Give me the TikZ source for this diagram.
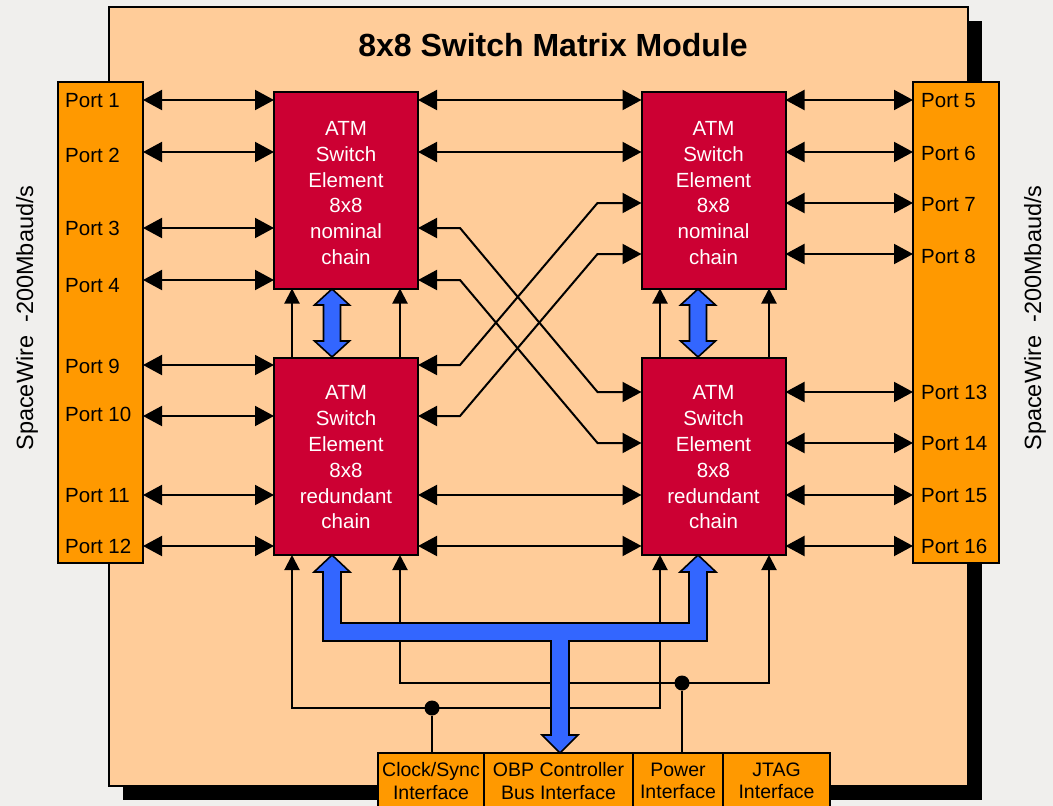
\documentclass[tikz,border=0pt]{standalone}
\usepackage{fontspec}
\setmainfont{Liberation Sans}
\usetikzlibrary{arrows.meta,calc}
\definecolor{bgc}{RGB}{240,239,237}
\definecolor{peach}{RGB}{255,204,153}
\definecolor{orng}{RGB}{255,153,0}
\definecolor{atmred}{RGB}{204,0,51}
\definecolor{busblue}{RGB}{51,102,255}
\begin{document}
\begin{tikzpicture}[x=1pt,y=-1pt,
  box/.style={draw=black, line width=2pt, inner sep=0pt, outer sep=0pt},
  atm/.style={box, fill=atmred, minimum width=144pt, minimum height=197pt},
  atmtxt/.style={text=white, align=center, inner sep=0pt, font=\fontsize{20.5}{25.8}\selectfont},
  ifc/.style={box, fill=orng, align=center, anchor=north west, minimum height=56pt,
    font=\fontsize{19.5}{22.5}\selectfont},
  ptxt/.style={anchor=west, inner sep=0pt, text height=14.7pt, text depth=0pt,
    font=\fontsize{20.5}{24}\selectfont},
  side/.style={rotate=90, inner sep=0pt, font=\fontsize{23.5}{27}\selectfont},
  harr/.style={line width=2pt, <->, >={Triangle[length=19pt,width=20pt]}},
  varr/.style={line width=2pt, ->, >={Triangle[length=15pt,width=15pt]}},
  vboth/.style={line width=2pt, <->, >={Triangle[length=15pt,width=15pt]}},
  wire/.style={line width=2pt},
  junction/.style={circle, fill=black, inner sep=0pt, minimum size=15pt},
  blueshape/.style={fill=busblue, draw=black, line width=1.6pt, line join=miter}]
\useasboundingbox (0,0) rectangle (1053,806);
\fill[bgc] (0,0) rectangle (1053,806);
% shadow and module
\fill[black] (123,21) rectangle (982,800);
\node[box, fill=peach, anchor=north west, minimum width=859pt, minimum height=779pt] (mod) at (109,7) {};
\node[font=\fontsize{32}{36}\selectfont\bfseries] (title) at (553,45) {8x8 Switch Matrix Module};
% side labels
\node[side] (swl) at (27,318) {SpaceWire\ \ -200Mbaud/s};
\node[side] (swr) at (1035,318) {SpaceWire\ \ -200Mbaud/s};
% port boxes
\node[box, fill=orng, anchor=north west, minimum width=85pt, minimum height=481pt] (lp) at (58,82) {};
\node[box, fill=orng, anchor=north west, minimum width=86pt, minimum height=481pt] (rp) at (913,82) {};
% ATM elements
\node[atm] (tl) at (346,190) {};
\node[atm] (tr) at (713.5,190) {};
\node[atm] (bl) at (346,456.5) {};
\node[atm] (br) at (713.5,456.5) {};
\node[atmtxt] (tlt) at ([yshift=-3pt]tl.center) {ATM\\Switch\\Element\\8x8\\nominal\\chain};
\node[atmtxt] (trt) at ([yshift=-3pt]tr.center) {ATM\\Switch\\Element\\8x8\\nominal\\chain};
\node[atmtxt] (blt) at ([yshift=-1pt]bl.center) {ATM\\Switch\\Element\\8x8\\redundant\\chain};
\node[atmtxt] (brt) at ([yshift=-1pt]br.center) {ATM\\Switch\\Element\\8x8\\redundant\\chain};
% interfaces
\node[ifc, minimum width=106pt] (clk) at (378,753) {Clock/Sync\\Interface};
\node[ifc, minimum width=149pt] (obp) at (484,753) {OBP Controller\\Bus Interface};
\node[ifc, minimum width=90pt] (pwr) at (633,753) {Power\\Interface};
\node[ifc, minimum width=107pt] (jtag) at (723,753) {JTAG\\Interface};
% port labels
\node[ptxt] (p1) at (65,100) {Port 1};
\node[ptxt] (p2) at (65,155) {Port 2};
\node[ptxt] (p3) at (65,228) {Port 3};
\node[ptxt] (p4) at (65,285) {Port 4};
\node[ptxt] (p9) at (65,366) {Port 9};
\node[ptxt] (p10) at (65,414) {Port 10};
\node[ptxt] (p11) at (65,495) {Port 11};
\node[ptxt] (p12) at (65,546) {Port 12};
\node[ptxt] (p5) at (921,100) {Port 5};
\node[ptxt] (p6) at (921,153) {Port 6};
\node[ptxt] (p7) at (921,204) {Port 7};
\node[ptxt] (p8) at (921,256) {Port 8};
\node[ptxt] (p13) at (921,392) {Port 13};
\node[ptxt] (p14) at (921,443) {Port 14};
\node[ptxt] (p15) at (921,495) {Port 15};
\node[ptxt] (p16) at (921,546) {Port 16};
% row and column coordinates
\coordinate (r1) at (0,100); \coordinate (r2) at (0,152);
\coordinate (r3) at (0,228); \coordinate (r4) at (0,280);
\coordinate (r9) at (0,365); \coordinate (r10) at (0,416);
\coordinate (r11) at (0,495); \coordinate (r12) at (0,546);
\coordinate (s5) at (0,100); \coordinate (s6) at (0,152);
\coordinate (s7) at (0,203); \coordinate (s8) at (0,254);
\coordinate (s13) at (0,392); \coordinate (s14) at (0,443);
\coordinate (s15) at (0,495); \coordinate (s16) at (0,546);
\coordinate (c1) at (292,0); \coordinate (c2) at (400,0);
\coordinate (c3) at (660,0); \coordinate (c4) at (769,0);
% left ports
\foreach \r in {r1,r2,r3,r4} \draw[harr] (lp.east |- \r) -- (tl.west |- \r);
\foreach \r in {r9,r10,r11,r12} \draw[harr] (lp.east |- \r) -- (bl.west |- \r);
% right ports
\foreach \r in {s5,s6,s7,s8} \draw[harr] (tr.east |- \r) -- (rp.west |- \r);
\foreach \r in {s13,s14,s15,s16} \draw[harr] (br.east |- \r) -- (rp.west |- \r);
% straight element links
\draw[harr] (tl.east |- r1) -- (tr.west |- r1);
\draw[harr] (tl.east |- r2) -- (tr.west |- r2);
\draw[harr] (bl.east |- r11) -- (br.west |- r11);
\draw[harr] (bl.east |- r12) -- (br.west |- r12);
% crossing links
\draw[harr] (tl.east |- r3) -- ([xshift=42pt]tl.east |- r3) -- ([xshift=-44pt]br.west |- s13) -- (br.west |- s13);
\draw[harr] (tl.east |- r4) -- ([xshift=42pt]tl.east |- r4) -- ([xshift=-44pt]br.west |- s14) -- (br.west |- s14);
\draw[harr] (bl.east |- r9) -- ([xshift=42pt]bl.east |- r9) -- ([xshift=-44pt]tr.west |- s7) -- (tr.west |- s7);
\draw[harr] (bl.east |- r10) -- ([xshift=42pt]bl.east |- r10) -- ([xshift=-44pt]tr.west |- s8) -- (tr.west |- s8);
% vertical links between chains
\draw[varr] (bl.north -| c1) -- (tl.south -| c1);
\draw[varr] (bl.north -| c2) -- (tl.south -| c2);
\draw[varr] (br.north -| c3) -- (tr.south -| c3);
\draw[varr] (br.north -| c4) -- (tr.south -| c4);
% clock and power distribution
\node[junction] (d1) at (432,708) {};
\node[junction] (d2) at (682,683) {};
\draw[vboth] (bl.south -| c1) -- (c1 |- d1) -- (c3 |- d1) -- (br.south -| c3);
\draw[vboth] (bl.south -| c2) -- (c2 |- d2) -- (c4 |- d2) -- (br.south -| c4);
\draw[wire] (d1) -- (clk.north -| d1);
\draw[wire] (d2) -- (pwr.north -| d2);
% blue double arrows between chains
\draw[blueshape] (332,289) -- (349.5,305) -- (340.5,305) -- (340.5,341) -- (349.5,341) -- (332,357)
  -- (314.5,341) -- (323.5,341) -- (323.5,305) -- (314.5,305) -- cycle;
\draw[blueshape] (698,289) -- (715.5,305) -- (706.5,305) -- (706.5,341) -- (715.5,341) -- (698,357)
  -- (680.5,341) -- (689.5,341) -- (689.5,305) -- (680.5,305) -- cycle;
% OBP controller bus
\draw[blueshape] (332,555) -- (350,572) -- (341,572) -- (341,623) -- (689,623) -- (689,572) -- (680,572)
  -- (698,555) -- (716,572) -- (707,572) -- (707,641) -- (569,641) -- (569,735) -- (578,735)
  -- (560,753) -- (542,735) -- (551,735) -- (551,641) -- (323,641) -- (323,572) -- (314,572) -- cycle;
\end{tikzpicture}
\end{document}
